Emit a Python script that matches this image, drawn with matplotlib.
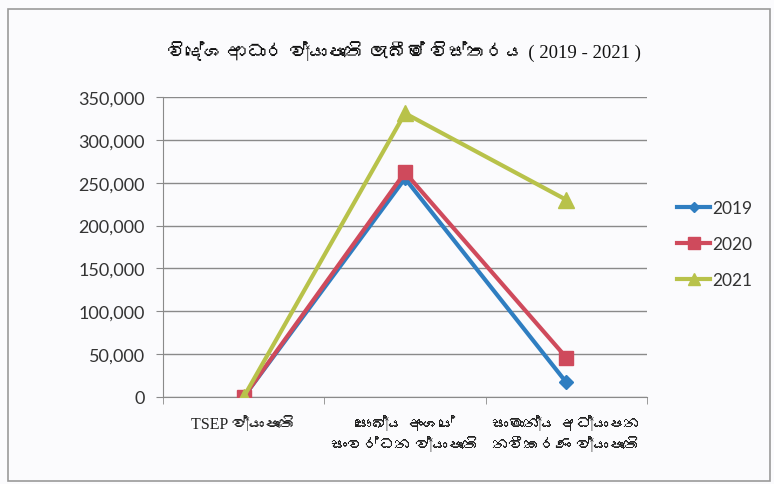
import matplotlib
matplotlib.use('Agg')
import matplotlib.pyplot as plt
from matplotlib import font_manager
from matplotlib.patches import Rectangle
from matplotlib.ticker import FuncFormatter

# data
categories = ['TSEP ව්‍යාපෘති',
              'සෞඛ්‍ය අංශයේ\nසංවර්ධන ව්‍යාපෘති',
              'සාමාන්‍ය අධ්‍යාපන\nනවීකරණ ව්‍යාපෘති']
years = ['2019', '2020', '2021']
v2019 = [0, 255000, 17000]
v2020 = [0, 262000, 46000]
v2021 = [0, 331000, 230000]
yticks = [0, 50000, 100000, 150000, 200000, 250000, 300000, 350000]
title = 'විදේශ ආධාර ව්‍යාපෘති ලැබීම් විස්තරය ( 2019 - 2021 )'

# look for any installed font with sinhala glyphs
sinhala = None
try:
    from fontTools.ttLib import TTFont
    for f in font_manager.fontManager.ttflist:
        try:
            cm = TTFont(f.fname, fontNumber=0, lazy=True).getBestCmap()
        except Exception:
            continue
        if cm and 0x0DC0 in cm:
            sinhala = f.name
            break
except Exception:
    pass

serif = ['Liberation Serif'] + ([sinhala] if sinhala else []) + ['DejaVu Sans']
sans = ['Lato', 'DejaVu Sans']

fig = plt.figure(figsize=(7.74, 4.85), dpi=100, facecolor='#fbfbfd')
ax = fig.add_axes([163/774, 1-398/485, 484/774, 300/485])
ax.set_facecolor('#fbfbfd')

# outer chart border
fig.patches.append(Rectangle((8/774, 3/485), 762/774, 472/485, transform=fig.transFigure,
                             fill=False, edgecolor='#9a9a9a', linewidth=1.2))

x = list(range(len(categories)))
ax.plot(x, v2019, color='#2f7ec1', linewidth=3, marker='D', markersize=7, label=years[0], zorder=3)
ax.plot(x, v2020, color='#cf4a5c', linewidth=3, marker='s', markersize=10, label=years[1], zorder=3)
ax.plot(x, v2021, color='#b8c24a', linewidth=3, marker='^', markersize=11, label=years[2], zorder=4)

ax.set_xlim(-0.5, 2.5)
ax.set_ylim(0, 350000)
ax.set_yticks(yticks)
ax.yaxis.set_major_formatter(FuncFormatter(lambda v, p: f'{int(v):,}'))
ax.grid(axis='y', color='#8a8a8a', linewidth=1)
ax.set_axisbelow(True)

ax.set_xticks(x)
ax.set_xticklabels(categories, family=serif, fontsize=11.5, color='#222222', linespacing=1.35)
ax.set_xticks([-0.5, 0.5, 1.5, 2.5], minor=True)
ax.tick_params(axis='x', which='major', length=0, pad=14)
ax.tick_params(axis='x', which='minor', length=5, color='#8a8a8a')
ax.tick_params(axis='y', length=5, color='#8a8a8a', labelsize=13, labelcolor='#333333', pad=8)
for lab in ax.get_yticklabels():
    lab.set_family(sans)

for s in ['top', 'right']:
    ax.spines[s].set_visible(False)
ax.spines['left'].set_color('#8a8a8a')
ax.spines['bottom'].set_color('#8a8a8a')

fig.text(404/774, 1-52/485, title, ha='center', va='center', family=serif,
         fontsize=13.5, color='#111111')

leg = ax.legend(loc='center left', bbox_to_anchor=(1.03, 0.51), frameon=False,
                prop={'family': sans, 'size': 12.5}, labelspacing=1.15,
                handlelength=1.9, handletextpad=0.1, markerscale=0.8)
for t in leg.get_texts():
    t.set_color('#333333')

fig.savefig('out.png', dpi=100, facecolor=fig.get_facecolor())
